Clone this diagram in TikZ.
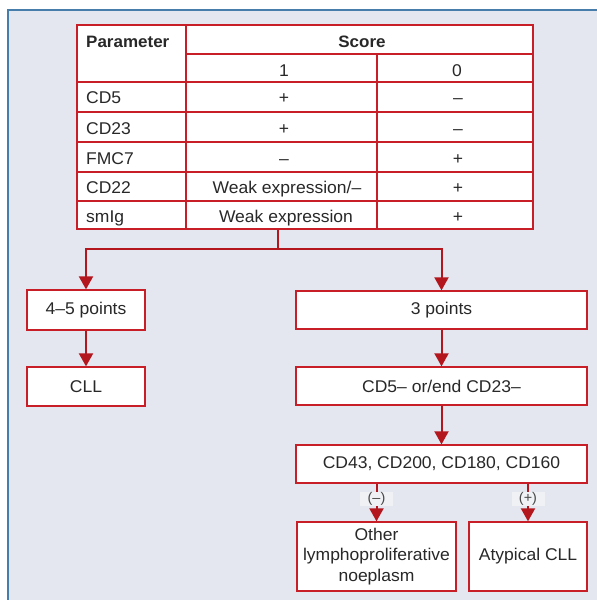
\documentclass[tikz,border=0pt]{standalone}
\usepackage{fontspec}
\setmainfont[FakeStretch=1.03]{Liberation Sans}
\usetikzlibrary{arrows.meta}
\definecolor{panel}{RGB}{228,231,239}
\definecolor{panelline}{RGB}{70,125,170}
\definecolor{rule}{RGB}{200,30,40}
\definecolor{arrowred}{RGB}{180,22,30}
\definecolor{ink}{RGB}{40,40,40}
\definecolor{tagbg}{RGB}{239,241,245}

\begin{document}
\begin{tikzpicture}[x=1pt,y=-1pt,
  every node/.style={font=\fontsize{17}{20.3}\selectfont, text=ink},
  cell/.style={inner sep=0pt},
  head/.style={cell, font=\fontsize{16.5}{20}\selectfont\bfseries},
  box/.style={draw=rule, fill=white, line width=1.3pt, inner sep=0pt, align=center},
  link/.style={draw=arrowred, line width=2pt},
  flow/.style={link, -{Triangle[width=14pt,length=13pt]}},
  tag/.style={fill=tagbg, inner sep=0pt, minimum width=33pt, minimum height=14pt,
              text=ink!85, font=\fontsize{14}{15}\selectfont}
]
\useasboundingbox (0,0) rectangle (597,600);

% background panel with its blue top and left edges
\fill[panel] (8,10) rectangle (597,600);
\draw[panelline, line width=2pt] (8,600) -- (8,10) -- (597,10);

% score table
\node[draw=rule, fill=white, line width=1.3pt, inner sep=0pt,
      minimum width=456pt, minimum height=204pt] (tbl) at (305,127) {};
\begin{scope}[rule, line width=1.3pt]
  \draw (186,25) -- (186,229);
  \draw (377,54) -- (377,229);
  \draw (186,54) -- (533,54);
  \foreach \yy in {82,112,142,172,201} \draw (77,\yy) -- (533,\yy);
\end{scope}

\node[head, anchor=base west] (hpar) at (86,47) {Parameter};
\node[head, anchor=base] (hsc) at (362,47) {Score};
\node[cell, anchor=base] (hone) at (284,76) {1};
\node[cell, anchor=base] (hzero) at (457,76) {0};

\node[cell, anchor=base west] (r1) at (86,103.5) {CD5};
\node[cell, anchor=base] (r1a) at (284,103.5) {+};
\node[cell, anchor=base] (r1b) at (458,103.5) {–};

\node[cell, anchor=base west] (r2) at (86,134) {CD23};
\node[cell, anchor=base] (r2a) at (284,134) {+};
\node[cell, anchor=base] (r2b) at (458,134) {–};

\node[cell, anchor=base west] (r3) at (86,164) {FMC7};
\node[cell, anchor=base] (r3a) at (284,164) {–};
\node[cell, anchor=base] (r3b) at (458,164) {+};

\node[cell, anchor=base west] (r4) at (86,193.5) {CD22};
\node[cell, anchor=base] (r4a) at (287,193.5) {Weak expression/–};
\node[cell, anchor=base] (r4b) at (458,193.5) {+};

\node[cell, anchor=base west] (r5) at (86,222.5) {smIg};
\node[cell, anchor=base] (r5a) at (286,222.5) {Weak expression};
\node[cell, anchor=base] (r5b) at (458,222.5) {+};

% flow boxes
\node[box, minimum width=118pt, minimum height=40pt] (p45) at (86,310) {4–5 points};
\node[box, minimum width=118pt, minimum height=39pt] (cll) at (86,386.5) {CLL};
\node[box, minimum width=291pt, minimum height=38pt] (p3) at (441.5,310) {3 points};
\node[box, minimum width=291pt, minimum height=38pt] (cdor) at (441.5,386) {CD5– or/end CD23–};
\node[box, minimum width=291pt, minimum height=38pt] (cdm) at (441.5,464) {CD43, CD200, CD180, CD160};
\node[box, minimum width=159pt, minimum height=69pt] (other) at (376.5,556.5)
  {Other\\lymphoproliferative\\noeplasm};
\node[box, minimum width=118pt, minimum height=69pt] (atyp) at (528,556.5) {Atypical CLL};

% connectors
\coordinate (split) at (278,249);
\draw[link] (tbl.south -| split) -- (split);
\draw[flow] (split) -| (p45.north);
\draw[flow] (split) -| (p3.north);
\draw[flow] (p45) -- (cll);
\draw[flow] (p3) -- (cdor);
\draw[flow] (cdor) -- (cdm);
\draw[flow] (cdm.south -| other.north) -- (other.north)
  node[tag, pos=0.4] (neg) {(–)};
\draw[flow] (cdm.south -| atyp.north) -- (atyp.north)
  node[tag, pos=0.4] (pos) {(+)};
\end{tikzpicture}
\end{document}
